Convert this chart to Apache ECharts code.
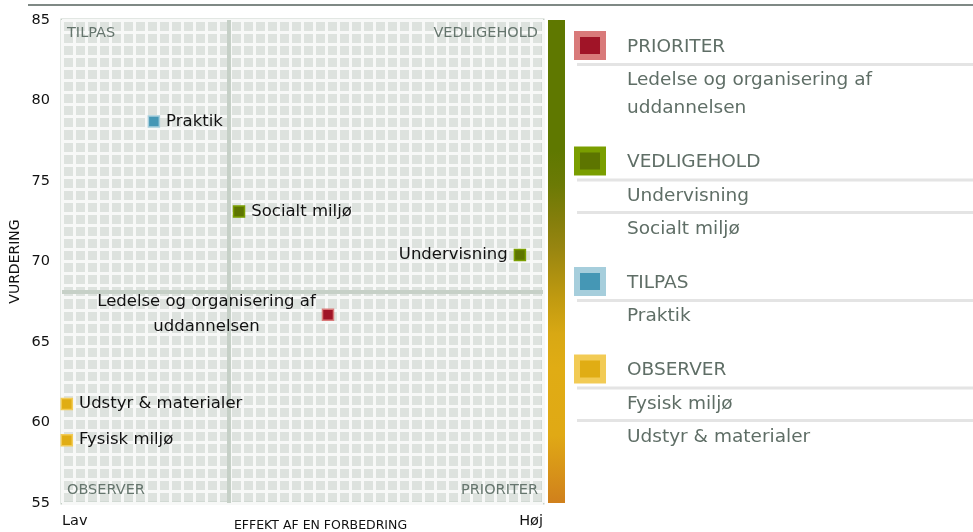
<!DOCTYPE html>
<html>
<head>
<meta charset="utf-8">
<script src="https://cdn.jsdelivr.net/npm/echarts@6/dist/echarts.min.js"></script>
<style>html,body{margin:0;padding:0;background:#fff}#c{width:973px;height:532px}</style>
</head>
<body>
<div id="c"></div>
<script>
// ---- data ----
const groupNames = ['PRIORITER', 'VEDLIGEHOLD', 'TILPAS', 'OBSERVER'];
const groupItems = [
  ['Ledelse og organisering af\nuddannelsen'],
  ['Undervisning', 'Socialt miljø'],
  ['Praktik'],
  ['Fysisk miljø', 'Udstyr & materialer']
];
// points per group: [effekt (0-100), vurdering, label]
const prioriterPoints = [[55.3, 66.7, 'Ledelse og organisering af\nuddannelsen']];
const vedligeholdPoints = [[95.2, 70.4, 'Undervisning'], [36.8, 73.1, 'Socialt miljø']];
const tilpasPoints = [[19.1, 78.7, 'Praktik']];
const observerPoints = [[1.0, 58.9, 'Fysisk miljø'], [1.0, 61.15, 'Udstyr & materialer']];
const yTicks = [55, 60, 65, 70, 75, 80, 85];
const xEndLabels = ['Lav', 'Høj'];
const quadrantX = 34.7;
const quadrantY = 68.1;
const quadrantLabels = ['TILPAS', 'VEDLIGEHOLD', 'OBSERVER', 'PRIORITER'];

// ---- styles ----
const FONT = 'DejaVu Sans';
const inner = ['#a01427', '#5d7500', '#4597b5', '#e0ad14'];
const outer = ['#d97a7a', '#7a9e00', '#a6cedc', '#f2cb55'];
const G = {left: 62, top: 20, width: 481, height: 483};

const chart = echarts.init(document.getElementById('c'), null, {renderer: 'canvas'});

function mkSeries(idx, pts) {
  return {
    type: 'scatter',
    name: groupNames[idx],
    xAxisIndex: 0, yAxisIndex: 0,
    symbol: 'rect',
    symbolSize: 11,
    z: 5,
    itemStyle: {color: inner[idx], borderColor: outer[idx], borderWidth: 1.5, opacity: 1},
    label: {
      show: true,
      position: 'right',
      formatter: p => p.data.value[2].split('\n').map(s => '{c|' + s + '}').join('\n'),
      color: '#111',
      fontFamily: FONT,
      fontSize: 16.5,
      lineHeight: 25,
      distance: 6,
      rich: {c: {align: 'center', color: '#111', fontFamily: FONT, fontSize: 16.5, lineHeight: 25}}
    },
    data: pts.map(p => {
      const d = {value: p};
      if (p[0] > 50) { d.label = {position: 'left'}; }
      return d;
    })
  };
}

const series = [
  mkSeries(0, prioriterPoints),
  mkSeries(1, vedligeholdPoints),
  mkSeries(2, tilpasPoints),
  mkSeries(3, observerPoints)
];

// quadrant lines
series.push({
  type: 'scatter', data: [], xAxisIndex: 0, yAxisIndex: 0,
  markLine: {
    silent: true, symbol: 'none', label: {show: false},
    lineStyle: {color: '#c6d0c7', width: 4, type: 'solid'},
    data: [{xAxis: quadrantX}, {yAxis: quadrantY}]
  }
});

// graphics
const graphics = [];
graphics.push({type: 'line', shape: {x1: 28, y1: 5, x2: 973, y2: 5}, style: {stroke: '#7f8985', lineWidth: 2}});
// color bar
graphics.push({
  type: 'rect', shape: {x: G.left + G.width + 5, y: G.top, width: 17, height: G.height},
  style: {fill: new echarts.graphic.LinearGradient(0, 0, 0, 1, [
    {offset: 0, color: '#5f7800'},
    {offset: 0.27, color: '#5f7800'},
    {offset: 0.34, color: '#6b7a05'},
    {offset: 0.41, color: '#837e0b'},
    {offset: 0.47, color: '#978510'},
    {offset: 0.575, color: '#c09a10'},
    {offset: 0.65, color: '#d8a814'},
    {offset: 0.72, color: '#e0ac14'},
    {offset: 0.86, color: '#e0a915'},
    {offset: 1, color: '#d0801c'}
  ])}
});
// quadrant labels
const qStyle = {fill: '#65756d', font: '14.5px "' + FONT + '"'};
graphics.push({type: 'text', x: G.left + 5, y: G.top + 13, style: Object.assign({text: quadrantLabels[0], align: 'left', verticalAlign: 'middle'}, qStyle), z: 10});
graphics.push({type: 'text', x: G.left + G.width - 5, y: G.top + 13, style: Object.assign({text: quadrantLabels[1], align: 'right', verticalAlign: 'middle'}, qStyle), z: 10});
graphics.push({type: 'text', x: G.left + 5, y: G.top + G.height - 13, style: Object.assign({text: quadrantLabels[2], align: 'left', verticalAlign: 'middle'}, qStyle), z: 10});
graphics.push({type: 'text', x: G.left + G.width - 5, y: G.top + G.height - 13, style: Object.assign({text: quadrantLabels[3], align: 'right', verticalAlign: 'middle'}, qStyle), z: 10});

// legend panel
let y = 31;
const LX = 574, TX = 627;
const lgFont = '18.5px "' + FONT + '"';
const lgColor = '#5f6e66';
groupNames.forEach((name, i) => {
  graphics.push({type: 'rect', shape: {x: LX, y: y, width: 32, height: 29}, style: {fill: outer[i]}});
  graphics.push({type: 'rect', shape: {x: LX + 6, y: y + 6, width: 20, height: 17}, style: {fill: inner[i]}});
  graphics.push({type: 'text', x: TX, y: y + 16, style: {text: name, font: lgFont, fill: lgColor, verticalAlign: 'middle'}});
  let sep = y + 33.5;
  graphics.push({type: 'rect', shape: {x: 577, y: sep - 1.5, width: 396, height: 3}, style: {fill: '#e4e4e4'}});
  let c = sep + 16;
  groupItems[i].forEach((it, j) => {
    if (j > 0) {
      const s2 = c + 16.5;
      graphics.push({type: 'rect', shape: {x: 577, y: s2 - 1.5, width: 396, height: 3}, style: {fill: '#e4e4e4'}});
      c = s2 + 16.5;
    }
    const lines = it.split('\n');
    lines.forEach((ln, k) => {
      graphics.push({type: 'text', x: TX, y: c + k * 28, style: {text: ln, font: lgFont, fill: lgColor, verticalAlign: 'middle'}});
    });
    c += (lines.length - 1) * 28;
  });
  y = c + 38;
});

const option = {
  animation: false,
  backgroundColor: '#fff',
  textStyle: {fontFamily: FONT},
  grid: {left: G.left, top: G.top, width: G.width, height: G.height, show: true,
         outerBoundsMode: 'none', containLabel: false,
         backgroundColor: '#dde2de', borderColor: '#c6d0c7', borderWidth: 3},
  xAxis: [{
    type: 'value', min: 0, max: 100, interval: 2.5,
    name: 'EFFEKT AF EN FORBEDRING', nameLocation: 'middle', nameGap: 16, nameMoveOverlap: false,
    nameTextStyle: {fontSize: 12.5, color: '#111', fontFamily: FONT, padding: [0, 0, 0, 36]},
    axisLine: {show: false}, axisTick: {show: false},
    splitLine: {show: true, lineStyle: {color: '#f7f8f7', width: 3}},
    axisLabel: {
      show: true, margin: 11, fontSize: 14.5, color: '#111', fontFamily: FONT,
      alignMinLabel: 'left', alignMaxLabel: 'right', showMinLabel: true, showMaxLabel: true,
      interval: 0,
      formatter: v => v === 0 ? xEndLabels[0] : (v === 100 ? xEndLabels[1] : '')
    }
  }],
  yAxis: [{
    type: 'value', min: yTicks[0], max: yTicks[yTicks.length - 1], interval: 5,
    name: 'VURDERING', nameLocation: 'middle', nameGap: 40, nameMoveOverlap: false,
    nameTextStyle: {fontSize: 14, color: '#111', fontFamily: FONT},
    axisLine: {show: false}, axisTick: {show: false}, splitLine: {show: false},
    axisLabel: {margin: 12, fontSize: 14.5, color: '#111', fontFamily: FONT}
  }, {
    type: 'value', min: 0, max: 40, interval: 1, position: 'right',
    axisLine: {show: false}, axisTick: {show: false}, axisLabel: {show: false},
    splitLine: {show: true, lineStyle: {color: '#f7f8f7', width: 3}}
  }],
  series: series,
  graphic: graphics
};
chart.setOption(option);
</script>
</body>
</html>
